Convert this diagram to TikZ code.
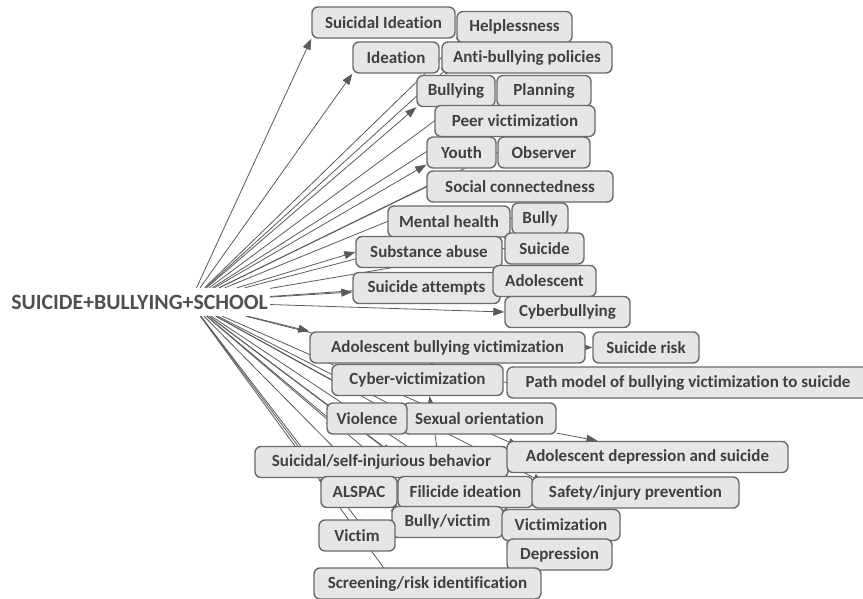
\documentclass[tikz,border=0pt]{standalone}
\usepackage{fontspec}
\setmainfont{Carlito}[Ligatures=NoCommon]
\usetikzlibrary{arrows.meta,backgrounds}

\definecolor{boxfill}{HTML}{E6E6E8}
\definecolor{boxline}{HTML}{6A6A6A}
\definecolor{inkgray}{HTML}{404040}
\definecolor{querygray}{HTML}{505050}
\definecolor{wiregray}{HTML}{5A5A5A}

\begin{document}
\begin{tikzpicture}[x=1pt,y=-1pt,
  		term/.style={rectangle,draw=boxline,fill=boxfill,line width=1.4pt,rounded corners=6pt,
    		minimum height=31pt,inner sep=2pt,text=inkgray,font=\fontsize{17}{19}\selectfont\bfseries},
  		query/.style={inner sep=0pt,text=querygray,font=\fontsize{21.8}{24}\selectfont\bfseries},
  		hub/.style={rectangle,minimum width=160pt,minimum height=28pt,inner sep=0pt},
  		link/.style={draw=wiregray,line width=0.8pt,-{Triangle[length=11pt,width=8pt]}},
  		buried/.style={link,shorten >=-14pt}]
	\useasboundingbox (0,0) rectangle (863,598);
    		% Query
      		\node[query] (query) at (139.5,302) {SUICIDE+BULLYING+SCHOOL};
      		\node[hub] (hub) at (190,302) {};
    		% Terms above
      		\node[term,minimum width=143pt] (sideation) at (383.5,22.5) {Suicidal Ideation};
      		\node[term,minimum width=115pt] (helpless) at (514.5,27) {Helplessness};
      		\node[term,minimum width=86pt] (ideation) at (396,57.5) {Ideation};
      		\node[term,minimum width=170pt] (antibully) at (527,57.5) {Anti-bullying policies};
      		\node[term,minimum width=78pt] (bullying) at (456,91) {Bullying};
      		\node[term,minimum width=94pt] (planning) at (544,91) {Planning};
      		\node[term,minimum width=160pt] (peervict) at (515,121) {Peer victimization};
      		\node[term,minimum width=69pt] (youth) at (461.5,152.5) {Youth};
      		\node[term,minimum width=92pt] (observer) at (544,152.5) {Observer};
      		\node[term,minimum width=186pt] (socconn) at (520,186.5) {Social connectedness};
      		\node[term,minimum width=122pt] (mental) at (449,221.5) {Mental health};
      		\node[term,minimum width=56pt] (bully) at (540,218.5) {Bully};
      		\node[term,minimum width=146pt] (substance) at (429,252) {Substance abuse};
      		\node[term,minimum width=79pt] (suicide) at (544.5,248.5) {Suicide};
      		\node[term,minimum width=147pt] (attempts) at (426.5,288) {Suicide attempts};
      		\node[term,minimum width=103pt] (adolescent) at (544.5,281) {Adolescent};
      		\node[term,minimum width=125pt] (cyberbully) at (567.5,312) {Cyberbullying};
    		% Terms below
      		\node[term,minimum width=275pt] (abv) at (447.5,347.5) {Adolescent bullying victimization};
      		\node[term,minimum width=106pt] (suirisk) at (646,347.5) {Suicide risk};
      		\node[term,minimum width=171pt] (cybervict) at (417.5,380) {Cyber-victimization};
      		\node[term,minimum width=362pt] (pathmodel) at (688,382.5) {Path model of bullying victimization to suicide};
      		\node[term,minimum width=153pt] (sexual) at (479.5,418.5) {Sexual orientation};
      		\node[term,minimum width=80pt] (violence) at (367,418.5) {Violence};
      		\node[term,minimum width=253pt] (suicidal) at (381.5,462) {Suicidal/self-injurious behavior};
      		\node[term,minimum width=281pt] (adoldep) at (647.5,457) {Adolescent depression and suicide};
      		\node[term,minimum width=76pt] (alspac) at (359,492) {ALSPAC};
      		\node[term,minimum width=135pt] (filicide) at (465.5,492) {Filicide ideation};
      		\node[term,minimum width=207pt] (safety) at (635.5,492.5) {Safety/injury prevention};
      		\node[term,minimum width=111pt] (bullyvict) at (447.5,522) {Bully/victim};
      		\node[term,minimum width=118pt] (victimization) at (561,525) {Victimization};
      		\node[term,minimum width=76pt] (victim) at (357,535.5) {Victim};
      		\node[term,minimum width=105pt] (depression) at (559.5,554.5) {Depression};
      		\node[term,minimum width=227pt] (screening) at (427.5,583.5) {Screening/risk identification};
    		% Links, kept under the boxes
      		\begin{scope}[on background layer]
        		\draw[link] (hub) -- (sideation.south west);
        		\draw[buried] (hub) -- (helpless.south west);
        		\draw[link] (hub) -- (ideation.south west);
        		\draw[buried] (hub) -- (antibully.south west);
        		\draw[link] (hub) -- (bullying.south west);
        		\draw[buried] (hub) -- (planning.south west);
        		\draw[buried] (hub) -- (peervict.west);
        		\draw[link] (hub) -- ([yshift=4pt]youth.south west);
        		\draw[buried] (hub) -- (observer.west);
        		\draw[buried] (hub) -- (socconn.west);
        		\draw[buried] (hub) -- (mental.west);
        		\draw[buried] (hub) -- (bully.west);
        		\draw[link] (hub) -- (substance.west);
        		\draw[buried] (hub) -- (suicide.west);
        		\draw[link] (hub) -- ([yshift=-4pt]attempts.west);
        		\draw[buried] (hub) -- (adolescent.west);
        		\draw[link] (hub) -- (cyberbully.west);
        		\draw[link] (hub) -- (abv.north west);
        		\draw[buried] (hub) -- (cybervict.west);
        		\draw[buried] (hub) -- (pathmodel.west);
        		\draw[buried] (hub) -- (violence.west);
        		\draw[buried] (hub) -- (sexual.west);
        		\draw[buried] (hub) -- (suicidal.north);
        		\draw[buried] (hub) -- (adoldep.north west);
        		\draw[buried] (hub) -- (alspac.north west);
        		\draw[buried] (hub) -- (filicide.north west);
        		\draw[buried] (hub) -- (safety.north west);
        		\draw[buried] (hub) -- (bullyvict.north west);
        		\draw[buried] (hub) -- (victimization.north west);
        		\draw[buried] (hub) -- (victim.north);
        		\draw[buried] (hub) -- (depression.north west);
        		\draw[buried] (hub) -- ([xshift=70pt]screening.north west);
        		\draw[link] (abv) -- (suirisk);
        		\draw[link] (sexual) -- ([xshift=-50pt]adoldep.north);
        		\draw[link] (bullyvict) -- ([xshift=12pt]cybervict.south);
      		\end{scope}
	\end{tikzpicture}
\end{document}
